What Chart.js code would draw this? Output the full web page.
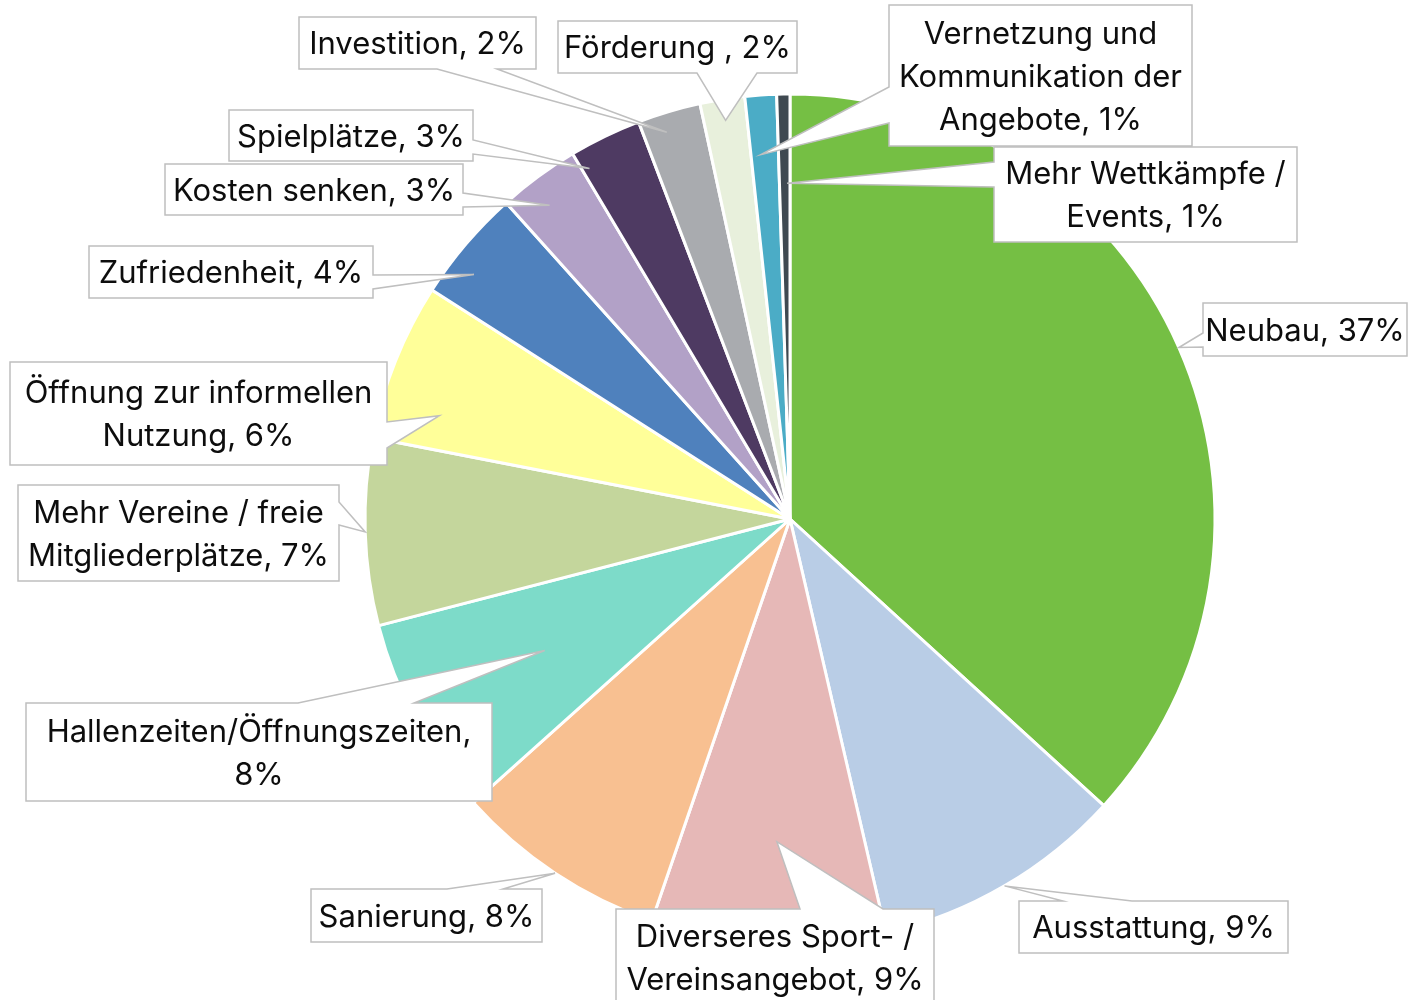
<!DOCTYPE html>
<html>
<head>
<meta charset="utf-8">
<script src="https://cdn.jsdelivr.net/npm/chart.js@4.4.1/dist/chart.umd.min.js"></script>
<style>
  html, body { margin: 0; padding: 0; background: #fff; }
  #wrap { width: 1409px; height: 1000px; }
</style>
</head>
<body>
<div id="wrap"><canvas id="myChart" width="1409" height="1000"></canvas></div>
<script>
// categories, clockwise from 12 o'clock
var categories = [
  "Neubau",
  "Ausstattung",
  "Diverseres Sport- / Vereinsangebot",
  "Sanierung",
  "Hallenzeiten/Öffnungszeiten",
  "Mehr Vereine / freie Mitgliederplätze",
  "Öffnung zur informellen Nutzung",
  "Zufriedenheit",
  "Kosten senken",
  "Spielplätze",
  "Investition",
  "Förderung ",
  "Vernetzung und Kommunikation der Angebote",
  "Mehr Wettkämpfe / Events"
];
// slice sizes (share in %)
var shares = [36.8, 9.6, 8.9, 8.1, 7.6, 7.1, 6.0, 4.3, 3.1, 2.75, 2.4, 1.7, 1.2, 0.5];
// percentages as printed in the labels
var pctLabels = [37, 9, 9, 8, 8, 7, 6, 4, 3, 3, 2, 2, 1, 1];
var sliceColors = [
  "#75bf44", "#b9cde6", "#e6b8b7", "#f8c091", "#7ddbc9", "#c4d69c", "#ffff99",
  "#4f81bd", "#b2a1c7", "#4e3a62", "#a9abaf", "#e8f0dc", "#4bacc6", "#3f4951"
];

// callout boxes: [x1, y1, x2, y2], side the pointer leaves from, pointer base, where in the slice it points
var callouts = [
  { box: [1203, 303, 1407, 356], side: "left", base: [333, 347], at: [0.5, 1.0] },
  { box: [1019, 901, 1288, 953], side: "top", base: [1063, 1132], at: [0.5, 1.0] },
  { box: [616, 909, 934, 1004], side: "top", base: [800, 883], at: [0.48, 0.76] },
  { box: [311, 889, 542, 942], side: "top", base: [447, 503], at: [0.5, 1.0] },
  { box: [26, 703, 492, 801], side: "top", base: [298, 414], at: [0.5, 0.655] },
  { box: [18, 485, 339, 581], side: "right", base: [502, 525], at: [0.5, 1.0] },
  { box: [10, 362, 387, 465], side: "right", base: [422, 448], at: [0.25, 0.86] },
  { box: [89, 246, 373, 298], side: "right", base: [275, 289], at: [0.33, 0.94] },
  { box: [165, 164, 463, 215], side: "right", base: [193, 207], at: [0.4, 0.93] },
  { box: [229, 110, 473, 161], side: "right", base: [140, 154], at: [0.1, 0.95] },
  { box: [299, 17, 536, 69], side: "bottom", base: [437, 497], at: [0.37, 0.955] },
  { box: [558, 21, 797, 73], side: "bottom", base: [697, 757], at: [0.5, 0.95] },
  { box: [889, 5, 1192, 146], side: "left", base: [87, 123], at: [0.36, 0.86] },
  { box: [994, 147, 1297, 242], side: "left", base: [162, 187], at: [0.73, 0.79] }
];

var FONT = "400 31px Inter, 'Noto Sans', sans-serif";
var LINE_H = 43;

function wrapText(ctx, text, maxW) {
  var words = text.split(" ");
  var lines = [];
  var cur = "";
  for (var i = 0; i < words.length; i++) {
    var test = cur ? cur + " " + words[i] : words[i];
    if (cur && ctx.measureText(test).width > maxW) {
      lines.push(cur);
      cur = words[i];
    } else {
      cur = test;
    }
  }
  if (cur) lines.push(cur);
  return lines;
}

function calloutPath(ctx, c, tip) {
  var x1 = c.box[0], y1 = c.box[1], x2 = c.box[2], y2 = c.box[3];
  var b1 = c.base[0], b2 = c.base[1];
  ctx.beginPath();
  ctx.moveTo(x1, y1);
  if (c.side == "top") { ctx.lineTo(b1, y1); ctx.lineTo(tip.x, tip.y); ctx.lineTo(b2, y1); }
  ctx.lineTo(x2, y1);
  if (c.side == "right") { ctx.lineTo(x2, b1); ctx.lineTo(tip.x, tip.y); ctx.lineTo(x2, b2); }
  ctx.lineTo(x2, y2);
  if (c.side == "bottom") { ctx.lineTo(b2, y2); ctx.lineTo(tip.x, tip.y); ctx.lineTo(b1, y2); }
  ctx.lineTo(x1, y2);
  if (c.side == "left") { ctx.lineTo(x1, b2); ctx.lineTo(tip.x, tip.y); ctx.lineTo(x1, b1); }
  ctx.closePath();
}

var calloutPlugin = {
  id: "callouts",
  afterDatasetsDraw: function(chart) {
    var ctx = chart.ctx;
    var arcs = chart.getDatasetMeta(0).data;
    ctx.save();
    ctx.font = FONT;
    for (var i = 0; i < callouts.length; i++) {
      var c = callouts[i];
      var arc = arcs[i];
      var a = arc.startAngle + c.at[0] * (arc.endAngle - arc.startAngle);
      var tip = {
        x: arc.x + Math.cos(a) * arc.outerRadius * c.at[1],
        y: arc.y + Math.sin(a) * arc.outerRadius * c.at[1]
      };
      calloutPath(ctx, c, tip);
      ctx.fillStyle = "#ffffff";
      ctx.fill();
      ctx.strokeStyle = "#bfbfbf";
      ctx.lineWidth = 1.5;
      ctx.stroke();

      var w = c.box[2] - c.box[0];
      var lines = wrapText(ctx, categories[i] + ", " + pctLabels[i] + "%", w + 10);
      var cx = (c.box[0] + c.box[2]) / 2;
      var cy = (c.box[1] + c.box[3]) / 2;
      // box cut off by the bottom edge: keep the text at the top
      if (c.box[3] > 1000) cy = c.box[1] + 5 + lines.length * LINE_H / 2;
      ctx.fillStyle = "#0d0d0d";
      ctx.textAlign = "center";
      ctx.textBaseline = "middle";
      var y0 = cy - (lines.length - 1) * LINE_H / 2 + 2;
      for (var j = 0; j < lines.length; j++) {
        ctx.fillText(lines[j], cx, y0 + j * LINE_H);
      }
    }
    ctx.restore();
  }
};

var ctx = document.getElementById("myChart");
var myChart = new Chart(ctx, {
  type: "pie",
  data: {
    labels: categories,
    datasets: [{
      data: shares,
      backgroundColor: sliceColors,
      borderColor: "#ffffff",
      borderWidth: 3,
      hoverOffset: 0
    }]
  },
  options: {
    responsive: false,
    animation: false,
    radius: 425,
    layout: { padding: { left: 365, right: 194, top: 94, bottom: 56 } },
    plugins: {
      legend: { display: false },
      tooltip: { enabled: false }
    }
  },
  plugins: [calloutPlugin]
});
</script>
</body>
</html>
